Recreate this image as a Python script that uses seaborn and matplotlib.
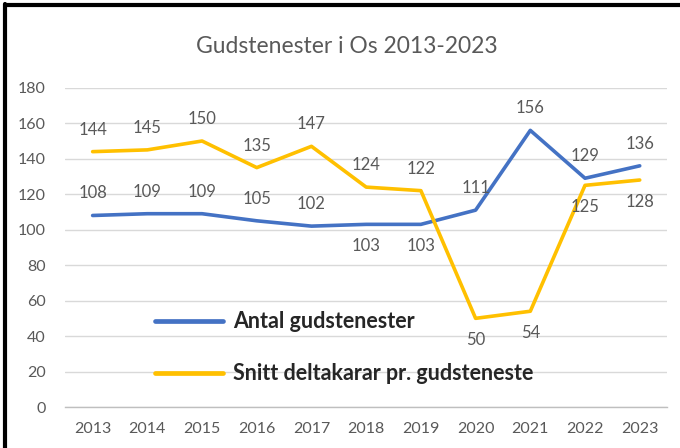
import matplotlib
matplotlib.use("Agg")
import matplotlib.pyplot as plt
from matplotlib.lines import Line2D
import pandas as pd
import seaborn as sns

years = [2013, 2014, 2015, 2016, 2017, 2018, 2019, 2020, 2021, 2022, 2023]
antal = [108, 109, 109, 105, 102, 103, 103, 111, 156, 129, 136]
snitt = [144, 145, 150, 135, 147, 124, 122, 50, 54, 125, 128]
# label placement: +1 above the point, -1 below
antal_pos = [1, 1, 1, 1, 1, -1, -1, 1, 1, 1, 1]
snitt_pos = [1, 1, 1, 1, 1, 1, 1, -1, -1, -1, -1]

name_a = "Antal gudstenester"
name_s = "Snitt deltakarar pr. gudsteneste"

df = pd.DataFrame({
    "year": [str(y) for y in years] * 2,
    "idx": list(range(len(years))) * 2,
    "value": antal + snitt,
    "serie": [name_a] * len(years) + [name_s] * len(years),
})

sns.set_theme(style="white")
plt.rcParams["font.family"] = ["Lato", "DejaVu Sans"]

fig = plt.figure(figsize=(6.8, 4.48), dpi=100)
ax = fig.add_axes([0.096, 0.0915, 0.885, 0.7125])

sns.lineplot(data=df, x="idx", y="value", hue="serie",
             palette={name_a: "#4472C4", name_s: "#FFC000"},
             linewidth=2.6, ax=ax, legend=False)

grey = "#595959"
for vals, pos in ((antal, antal_pos), (snitt, snitt_pos)):
    for i, (v, p) in enumerate(zip(vals, pos)):
        ax.annotate(str(v), (i, v), xytext=(0, 22 * p), textcoords="offset pixels",
                    ha="center", va="center", fontsize=12, color=grey)

ax.set_xlim(-0.5, len(years) - 0.5)
ax.set_ylim(0, 180)
ax.set_yticks(range(0, 181, 20))
ax.set_xticks(range(len(years)))
ax.set_xticklabels(years)
ax.set_xticks([i - 0.5 for i in range(len(years) + 1)], minor=True)
ax.tick_params(axis="x", which="major", length=0, pad=11, labelsize=11.5, labelcolor=grey)
ax.tick_params(axis="x", which="minor", length=5, color="#BFBFBF", direction="out")
ax.tick_params(axis="y", length=0, pad=14, labelsize=11.5, labelcolor=grey)
ax.set_xlabel("")
ax.set_ylabel("")
ax.yaxis.grid(True, color="#D9D9D9", linewidth=1)
ax.set_axisbelow(True)
for s in ["top", "right", "left"]:
    ax.spines[s].set_visible(False)
ax.spines["bottom"].set_color("#BFBFBF")
ax.spines["bottom"].set_linewidth(1)

handles = [Line2D([], [], color="#4472C4", linewidth=3.4),
           Line2D([], [], color="#FFC000", linewidth=3.4)]
fig.legend(handles, [name_a, name_s], loc="center left",
           bbox_to_anchor=(0.228, 0.224), frameon=False, borderpad=0,
           borderaxespad=0, handlelength=3.15, handletextpad=0.47,
           labelspacing=1.45, prop={"size": 15.5, "weight": "bold"})

fig.text(0.51, 0.897, "Gudstenester i Os 2013-2023", ha="center", va="center",
         fontsize=16.5, color=grey)

# outer frame
fig.add_artist(Line2D([0.008, 0.008], [0, 0.99], transform=fig.transFigure,
                      color="black", linewidth=3))
fig.add_artist(Line2D([0.008, 1], [0.988, 0.988], transform=fig.transFigure,
                      color="black", linewidth=3))

fig.savefig("out.png", dpi=100)
